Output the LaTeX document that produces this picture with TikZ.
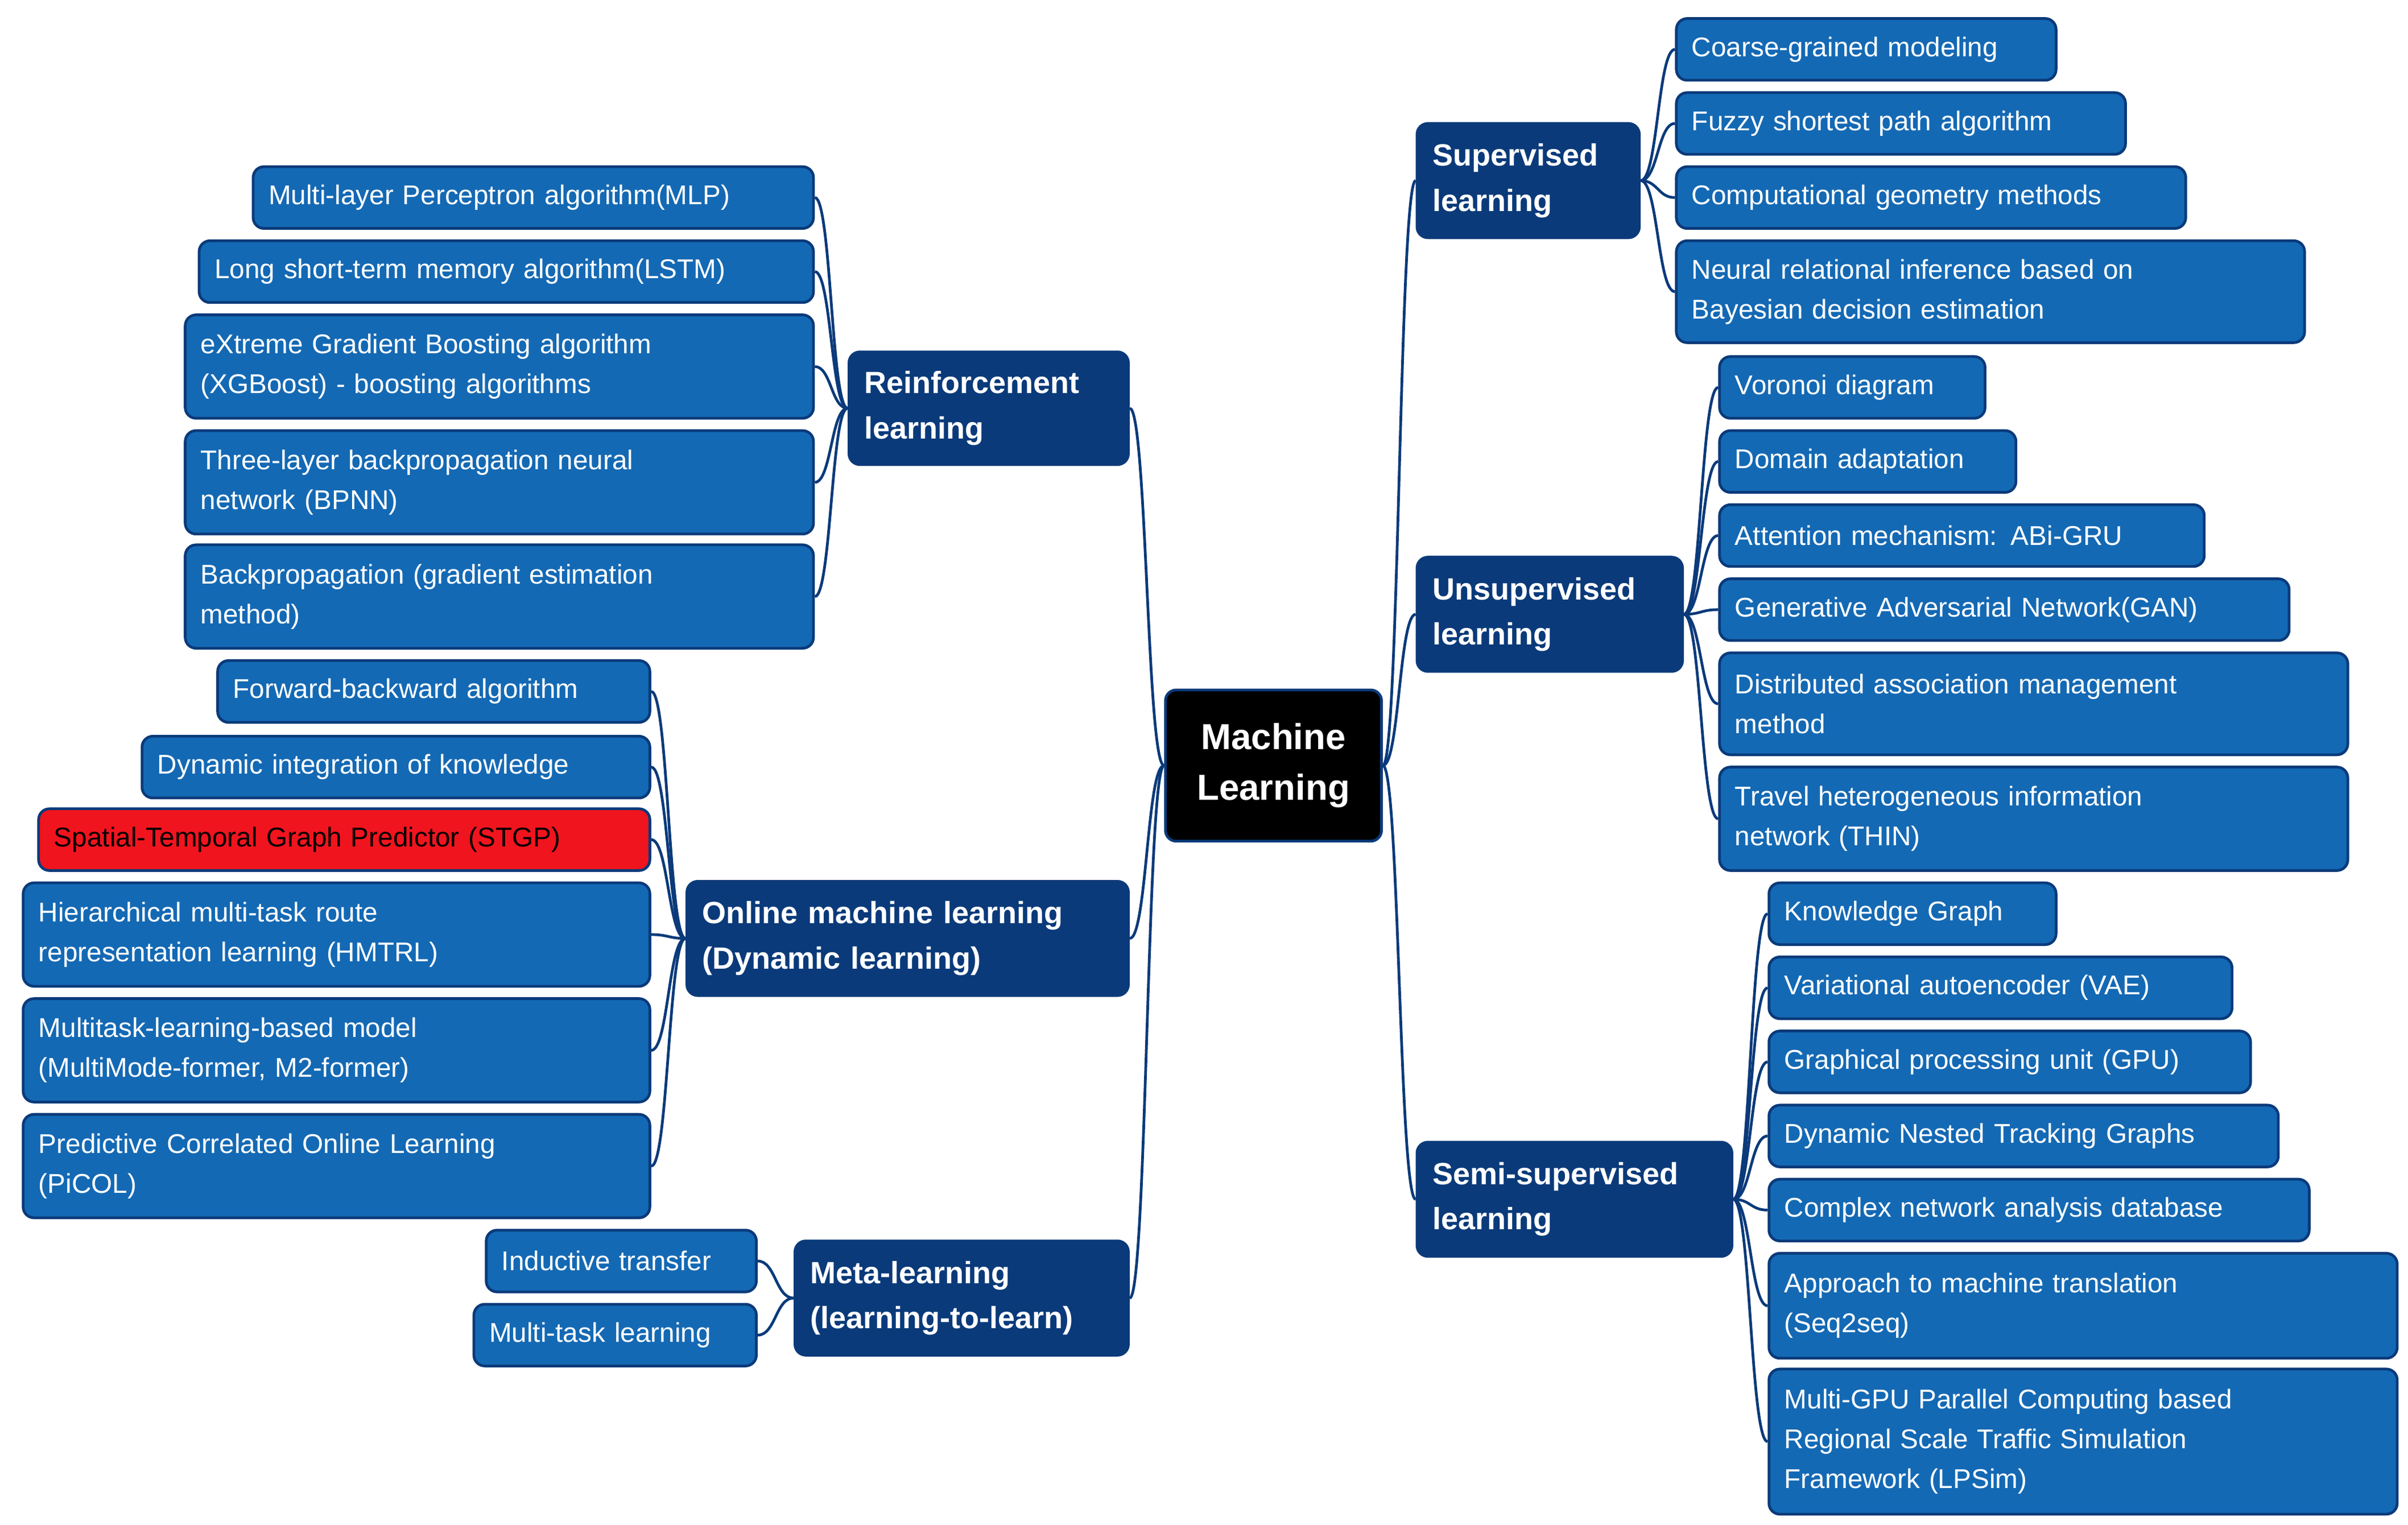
\documentclass[tikz,border=0pt]{standalone}
\usepackage{fontspec}
\setmainfont{Liberation Sans}
\usetikzlibrary{calc}
\definecolor{navy}{HTML}{0A3A7A}
\definecolor{leaf}{HTML}{1469B4}
\definecolor{redleaf}{HTML}{F0141E}
\tikzset{
  base/.style={rounded corners=6pt, draw=navy, line width=1.5pt, inner xsep=0.3cm, inner ysep=0pt, align=left},
  leafbox/.style={base, fill=leaf, text=white, font=\fontsize{15}{22}\selectfont},
  redbox/.style={base, fill=redleaf, text=black, font=\fontsize{15}{22}\selectfont},
  catbox/.style={base, fill=navy, text=white, font=\fontsize{17}{25}\selectfont\bfseries},
  rootbox/.style={base, fill=black, text=white, align=center, font=\fontsize{20}{28}\selectfont\bfseries},
  conn/.style={draw=navy, line width=1.5pt}
}
\newcommand\bx[7]{%
  \pgfmathsetlengthmacro\bw{(#4-#2)*0.03cm}%
  \pgfmathsetlengthmacro\bh{(#5-#3)*0.03cm}%
  \pgfmathsetlengthmacro\tw{(#4-#2)*0.03cm-0.6cm}%
  \node[#6, minimum width=\bw, minimum height=\bh, text width=\tw] (#1) at ({(#2+#4)/2},{(#3+#5)/2}) {#7};}
\newcommand\conR[2]{%
  \path ($(#1.east)!.5!(#2.west)$) coordinate (m);
  \draw[conn] (#1.east) .. controls (m |- #1.east) and (m |- #2.west) .. (#2.west);}
\newcommand\conL[2]{%
  \path ($(#1.west)!.5!(#2.east)$) coordinate (m);
  \draw[conn] (#1.west) .. controls (m |- #1.west) and (m |- #2.east) .. (#2.east);}
\begin{document}
\begin{tikzpicture}[x=0.03cm,y=-0.03cm]
\useasboundingbox (0,0) rectangle (1560,988);
\bx{ml}{755}{447}{895}{545}{rootbox}{Machine\\Learning}
% right
\bx{sup}{918}{80}{1062}{154}{catbox}{Supervised\\learning}
\bx{s1}{1086}{12}{1332}{52}{leafbox}{Coarse-grained modeling}
\bx{s2}{1086}{60}{1377}{100}{leafbox}{Fuzzy shortest path algorithm}
\bx{s3}{1086}{108}{1416}{148}{leafbox}{Computational geometry methods}
\bx{s4}{1086}{156}{1493}{222}{leafbox}{Neural relational inference based on\\Bayesian decision estimation}
\bx{uns}{918}{361}{1090}{435}{catbox}{Unsupervised\\learning}
\bx{u1}{1114}{231}{1286}{271}{leafbox}{Voronoi diagram}
\bx{u2}{1114}{279}{1306}{319}{leafbox}{Domain adaptation}
\bx{u3}{1114}{327}{1428}{367}{leafbox}{Attention mechanism: ABi-GRU}
\bx{u4}{1114}{375}{1483}{415}{leafbox}{Generative Adversarial Network(GAN)}
\bx{u5}{1114}{423}{1521}{489}{leafbox}{Distributed association management\\method}
\bx{u6}{1114}{497}{1521}{564}{leafbox}{Travel heterogeneous information\\network (THIN)}
\bx{semi}{918}{740}{1122}{814}{catbox}{Semi-supervised\\learning}
\bx{m1}{1146}{572}{1332}{612}{leafbox}{Knowledge Graph}
\bx{m2}{1146}{620}{1446}{660}{leafbox}{Variational autoencoder (VAE)}
\bx{m3}{1146}{668}{1458}{708}{leafbox}{Graphical processing unit (GPU)}
\bx{m4}{1146}{716}{1476}{756}{leafbox}{Dynamic Nested Tracking Graphs}
\bx{m5}{1146}{764}{1496}{804}{leafbox}{Complex network analysis database}
\bx{m6}{1146}{812}{1553}{880}{leafbox}{Approach to machine translation\\(Seq2seq)}
\bx{m7}{1146}{887}{1553}{981}{leafbox}{Multi-GPU Parallel Computing based\\Regional Scale Traffic Simulation\\Framework (LPSim)}
% left
\bx{rl}{550}{228}{731}{301}{catbox}{Reinforcement\\learning}
\bx{r1}{164}{108}{527}{148}{leafbox}{Multi-layer Perceptron algorithm(MLP)}
\bx{r2}{129}{156}{527}{196}{leafbox}{Long short-term memory algorithm(LSTM)}
\bx{r3}{120}{204}{527}{271}{leafbox}{eXtreme Gradient Boosting algorithm\\(XGBoost) - boosting algorithms}
\bx{r4}{120}{279}{527}{346}{leafbox}{Three-layer backpropagation neural\\network (BPNN)}
\bx{r5}{120}{353}{527}{420}{leafbox}{Backpropagation (gradient estimation\\method)}
\bx{on}{445}{571}{731}{645}{catbox}{Online machine learning\\(Dynamic learning)}
\bx{o1}{141}{428}{421}{468}{leafbox}{Forward-backward algorithm}
\bx{o2}{92}{477}{421}{517}{leafbox}{Dynamic integration of knowledge}
\bx{o3}{25}{524}{421}{564}{redbox}{Spatial-Temporal Graph Predictor (STGP)}
\bx{o4}{15}{572}{421}{639}{leafbox}{Hierarchical multi-task route\\representation learning (HMTRL)}
\bx{o5}{15}{647}{421}{714}{leafbox}{Multitask-learning-based model\\(MultiMode-former, M2-former)}
\bx{o6}{15}{722}{421}{789}{leafbox}{Predictive Correlated Online Learning\\(PiCOL)}
\bx{meta}{515}{804}{731}{878}{catbox}{Meta-learning\\(learning-to-learn)}
\bx{t1}{315}{797}{490}{837}{leafbox}{Inductive transfer}
\bx{t2}{307}{845}{490}{885}{leafbox}{Multi-task learning}
% connectors
\foreach \c in {sup,uns,semi} {\conR{ml}{\c}}
\foreach \c in {s1,s2,s3,s4} {\conR{sup}{\c}}
\foreach \c in {u1,u2,u3,u4,u5,u6} {\conR{uns}{\c}}
\foreach \c in {m1,m2,m3,m4,m5,m6,m7} {\conR{semi}{\c}}
\foreach \c in {rl,on,meta} {\conL{ml}{\c}}
\foreach \c in {r1,r2,r3,r4,r5} {\conL{rl}{\c}}
\foreach \c in {o1,o2,o3,o4,o5,o6} {\conL{on}{\c}}
\foreach \c in {t1,t2} {\conL{meta}{\c}}
\end{tikzpicture}
\end{document}
